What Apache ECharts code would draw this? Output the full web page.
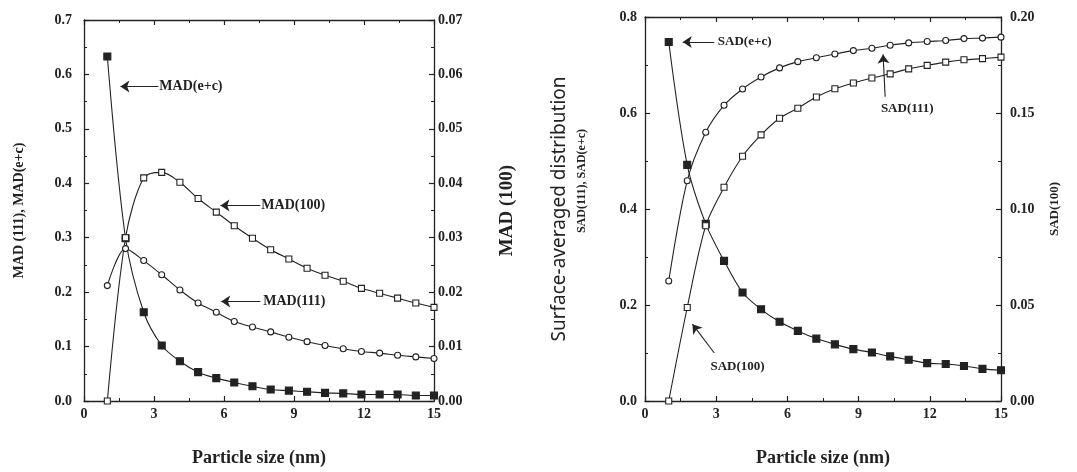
<!DOCTYPE html>
<html>
<head>
<meta charset="utf-8">
<script src="https://cdn.jsdelivr.net/npm/echarts@6/dist/echarts.min.js"></script>
<style>
html,body{margin:0;padding:0;background:#fff;}
#chart{width:1077px;height:472px;}
</style>
</head>
<body>
<div id="chart"></div>
<script>
// Particle sizes (nm), shared by all curves
var sizes = [1, 1.78, 2.56, 3.33, 4.11, 4.89, 5.67, 6.44, 7.22, 8.0, 8.78, 9.56, 10.33, 11.11, 11.89, 12.67, 13.44, 14.22, 15];

// Left panel: mass-averaged distribution
var madEC  = [0.633, 0.299, 0.163, 0.102, 0.073, 0.053, 0.042, 0.034, 0.027, 0.021, 0.019, 0.017, 0.015, 0.014, 0.012, 0.012, 0.012, 0.010, 0.010];
var mad111 = [0.212, 0.280, 0.258, 0.232, 0.204, 0.180, 0.163, 0.146, 0.136, 0.127, 0.117, 0.109, 0.102, 0.096, 0.091, 0.088, 0.084, 0.081, 0.078];
var mad100 = [0.000, 0.030, 0.0410, 0.0420, 0.0402, 0.0372, 0.0347, 0.0322, 0.0299, 0.0278, 0.0261, 0.0244, 0.0231, 0.0220, 0.0207, 0.0198, 0.0189, 0.0180, 0.0172];

// Right panel: surface-averaged distribution
var sadEC  = [0.748, 0.492, 0.369, 0.292, 0.226, 0.191, 0.165, 0.146, 0.130, 0.118, 0.108, 0.101, 0.093, 0.086, 0.079, 0.077, 0.073, 0.067, 0.064];
var sad111 = [0.250, 0.459, 0.560, 0.616, 0.650, 0.675, 0.694, 0.707, 0.715, 0.723, 0.730, 0.735, 0.741, 0.746, 0.749, 0.751, 0.755, 0.756, 0.758];
var sad100 = [0.000, 0.0487, 0.0913, 0.1113, 0.1275, 0.1386, 0.1473, 0.1525, 0.1583, 0.1626, 0.1656, 0.1682, 0.1704, 0.1730, 0.1748, 0.1765, 0.1777, 0.1783, 0.1791];

// Axis tick settings
var xTicks = {min: 0, max: 15, interval: 3};
var leftTicksA = {min: 0, max: 0.7, interval: 0.1};
var leftTicksB = {min: 0, max: 0.07, interval: 0.01};
var rightTicksA = {min: 0, max: 0.8, interval: 0.2};
var rightTicksB = {min: 0, max: 0.20, interval: 0.05};

// Annotation arrows: [label, tip x, tip y, tail x, tail y, text x, text y, text placement]
var leftNotes = [
  ['MAD(e+c)', 1.56, 0.578, 3.19, 0.578, 3.23, 0.578, 'right'],
  ['MAD(100)', 5.85, 0.359, 7.56, 0.359, 7.60, 0.359, 'right'],
  ['MAD(111)', 5.88, 0.183, 7.56, 0.183, 7.68, 0.183, 'right']
];
var rightNotes = [
  ['SAD(e+c)', 1.59, 0.748, 2.92, 0.748, 3.07, 0.748, 'right'],
  ['SAD(111)', 10.03, 0.722, 10.12, 0.634, 11.05, 0.610, 'inside'],
  ['SAD(100)', 2.00, 0.160, 2.92, 0.100, 3.90, 0.072, 'inside']
];

var INK = '#222';
var SERIF = '"Liberation Serif", "DejaVu Serif", serif';

function pairs(ys){ return sizes.map(function(x,i){ return [x, ys[i]]; }); }

function xAxisPair(grid){
  var base = {
    gridIndex: grid, type: 'value', min: xTicks.min, max: xTicks.max, interval: xTicks.interval,
    axisLine: {show: true, onZero: false, lineStyle: {color: INK, width: 1.3}},
    axisTick: {show: true, inside: true, length: 5, lineStyle: {color: INK, width: 1.2}},
    minorTick: {show: true, splitNumber: 2, length: 3, lineStyle: {color: INK, width: 1}},
    splitLine: {show: false}
  };
  var bottom = Object.assign({}, base, {
    position: 'bottom',
    axisLabel: {show: true, margin: 6, color: INK, fontFamily: SERIF, fontWeight: 'bold', fontSize: 14},
    name: 'Particle size (nm)', nameLocation: 'middle', nameGap: 48,
    nameTextStyle: {color: INK, fontFamily: SERIF, fontWeight: 'bold', fontSize: 18}
  });
  var top = Object.assign({}, base, {position: 'top', axisLabel: {show: false}});
  return [bottom, top];
}

function yAxis(grid, pos, t, digits, margin, name, gap, nameStyle){
  return {
    gridIndex: grid, type: 'value', position: pos, min: t.min, max: t.max, interval: t.interval,
    axisLine: {show: true, onZero: false, lineStyle: {color: INK, width: 1.3}},
    axisTick: {show: true, inside: true, length: 5, lineStyle: {color: INK, width: 1.2}},
    minorTick: {show: true, splitNumber: 2, length: 3, lineStyle: {color: INK, width: 1}},
    splitLine: {show: false},
    axisLabel: {show: true, margin: margin, color: INK, fontFamily: SERIF, fontWeight: 'bold', fontSize: 14,
      formatter: function(v){ return v.toFixed(digits); }},
    name: name, nameLocation: 'middle', nameGap: gap, nameRotate: 90,
    nameTextStyle: nameStyle
  };
}

function lineSeries(name, xi, yi, ys, symbol, filled, size){
  return {
    name: name, type: 'line', xAxisIndex: xi, yAxisIndex: yi, data: pairs(ys),
    smooth: 0.3, symbol: symbol, symbolSize: size, showSymbol: true,
    lineStyle: {color: INK, width: 1.1},
    itemStyle: {color: filled ? INK : '#fff', borderColor: INK, borderWidth: 1.1},
    emphasis: {disabled: true}, animation: false, z: filled ? 3 : 4
  };
}

function notes(list, fontWeight, fontSize){
  return {
    markLine: {
      silent: true, animation: false, symbolSize: 9,
      lineStyle: {color: INK, width: 1.1, type: 'solid'},
      label: {show: false},
      data: list.map(function(n){
        return [{coord: [n[3], n[4]], symbol: 'none'}, {coord: [n[1], n[2]], symbol: 'arrow'}];
      })
    },
    markPoint: {
      silent: true, animation: false, symbol: 'rect', symbolSize: 0.01,
      itemStyle: {color: 'rgba(0,0,0,0)'},
      data: list.map(function(n){
        return {coord: [n[5], n[6]], name: n[0],
          label: {show: true, position: n[7], distance: 0, formatter: '{b}', color: INK,
            fontFamily: SERIF, fontWeight: fontWeight, fontSize: fontSize}};
      })
    }
  };
}

var sEC = lineSeries('MAD(e+c)', 0, 0, madEC, 'rect', true, 7);
Object.assign(sEC, notes(leftNotes, 'bold', 14));
var sSEC = lineSeries('SAD(e+c)', 2, 2, sadEC, 'rect', true, 7);
Object.assign(sSEC, notes(rightNotes, 'bold', 13));

var option = {
  backgroundColor: '#fff',
  animation: false,
  grid: [
    {left: 84, top: 20, width: 350, height: 382},
    {left: 645, top: 17, width: 356, height: 385}
  ],
  xAxis: xAxisPair(0).concat(xAxisPair(1)),
  yAxis: [
    yAxis(0, 'left', leftTicksA, 1, 12, 'MAD (111), MAD(e+c)', 58,
      {color: INK, fontFamily: SERIF, fontWeight: 'bold', fontSize: 14}),
    yAxis(0, 'right', leftTicksB, 2, 4, 'MAD (100)', 64,
      {color: INK, fontFamily: SERIF, fontWeight: 'bold', fontSize: 19}),
    yAxis(1, 'left', rightTicksA, 1, 8,
      '{a|Surface-averaged distribution}\n{b|SAD(111), SAD(e+c)}', 56,
      {color: INK, rich: {
        a: {fontFamily: '"Noto Sans", sans-serif', fontSize: 19, lineHeight: 30, color: INK},
        b: {fontFamily: SERIF, fontWeight: 'bold', fontSize: 12, lineHeight: 14, color: INK, padding: [0, 0, 0, 56]}
      }}),
    yAxis(1, 'right', rightTicksB, 2, 9, 'SAD(100)', 47,
      {color: INK, fontFamily: SERIF, fontWeight: 'bold', fontSize: 13})
  ],
  series: [
    sEC,
    lineSeries('MAD(111)', 0, 0, mad111, 'circle', false, 6),
    lineSeries('MAD(100)', 0, 1, mad100, 'rect', false, 6),
    sSEC,
    lineSeries('SAD(111)', 2, 2, sad111, 'circle', false, 6),
    lineSeries('SAD(100)', 2, 3, sad100, 'rect', false, 6)
  ]
};

var chart = echarts.init(document.getElementById('chart'), null, {renderer: 'canvas'});
chart.setOption(option);
</script>
</body>
</html>
